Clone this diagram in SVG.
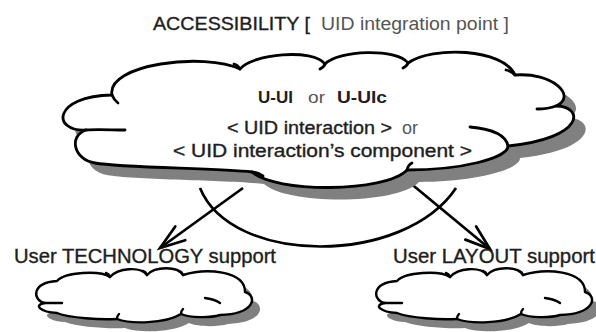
<svg xmlns="http://www.w3.org/2000/svg" width="596" height="332" viewBox="0 0 596 332">
<style>
.t{font-family:"Liberation Sans",Arial,sans-serif;fill:#1e1e1e;stroke:#1e1e1e;stroke-width:0.35}
.g{fill:#555;stroke:none}
.b{font-weight:bold;stroke:none}
.shadow{fill:#808080;stroke:none}
.cloud{fill:#fff;stroke:#000;stroke-width:2.8;stroke-linejoin:round}
.hook{fill:none;stroke:#000;stroke-width:2.8;stroke-linecap:round}
.scloud{fill:#fff;stroke:#000;stroke-width:2.4;stroke-linejoin:round}
.shook{fill:none;stroke:#000;stroke-width:2.4;stroke-linecap:round}
.conn{fill:none;stroke:#000;stroke-width:2.7}
</style>
<defs>
<marker id="arr" markerUnits="userSpaceOnUse" markerWidth="40" markerHeight="40" viewBox="-30 -15 40 30" refX="0" refY="0" orient="auto">
<path d="M-25,-8.5 L0,0 L-25,8.5" fill="none" stroke="#000" stroke-width="2.7" stroke-linecap="round" stroke-linejoin="miter"/>
</marker>
<path id="big" d="M86,130 C52,132 52,96 112,95 C106,64 205,52 240,69 C252,54 313,48 325,64 C338,50 397,48 408,63 C432,46 503,48 515,75 C552,72 578,96 556,106 C584,106 586,138 508,146 C508,158 462,170 407,170 C385,193 275,193 252,172 C218,168 122,168 95,163 C74,160 68,136 86,130 Z"/>
<path id="small" d="M45,303 C33,301 30,283 57,281 C65,272 100,270 110,277 C118,268 140,266 147,275 C155,266 178,266 183,275 C205,268 245,270 245,292 C258,296 255,314 220,315 C210,318 190,318 181,314 C165,324 130,324 117,319 C100,320 70,318 57,313 C40,312 33,305 45,303 Z"/>
</defs>

<text class="t" x="153" y="30" font-size="18" textLength="157" lengthAdjust="spacingAndGlyphs">ACCESSIBILITY [</text>
<text class="t g" x="321" y="30" font-size="18" textLength="188" lengthAdjust="spacingAndGlyphs">UID integration point ]</text>

<g id="connectors">
<path class="conn" d="M200,188 C232,266 404,266 456,188"/>
<path class="conn" d="M243,188 L160,248" marker-end="url(#arr)"/>
<path class="conn" d="M409,182 L490,249" marker-end="url(#arr)"/>
</g>

<g id="uid-interaction">
<use href="#big" class="shadow" transform="translate(12,12)"/>
<use href="#big" class="cloud"/>
<path class="hook" d="M86,130 C97,129 112,130 125,130"/>
<path class="hook" d="M112,95 Q114,100 118,103"/>
<path class="hook" d="M240,69 Q238,65 234,64"/>
<path class="hook" d="M325,64 Q324,67 320,69"/>
<path class="hook" d="M408,63 Q407,66 403,68"/>
<path class="hook" d="M515,75 Q511,71 506,70"/>
<path class="hook" d="M556,106 C551,108 545,109 537,109"/>
<path class="hook" d="M508,146 C506,135 492,129 470,127"/>
<path class="hook" d="M407,170 Q408,165 412,163"/>
<path class="hook" d="M252,172 Q257,172 263,176"/>
<text class="t b" x="258" y="103" font-size="17" textLength="35" lengthAdjust="spacingAndGlyphs">U-UI</text>
<text class="t g" x="308" y="103" font-size="17" textLength="17" lengthAdjust="spacingAndGlyphs">or</text>
<text class="t b" x="337" y="103" font-size="17" textLength="50" lengthAdjust="spacingAndGlyphs">U-UIc</text>
<text class="t" x="227" y="134" font-size="17.5" textLength="165" lengthAdjust="spacingAndGlyphs">&lt; UID interaction &gt;</text>
<text class="t g" x="402" y="134" font-size="17.5" textLength="16" lengthAdjust="spacingAndGlyphs">or</text>
<text class="t" x="173" y="157" font-size="17.5" textLength="299" lengthAdjust="spacingAndGlyphs">&lt; UID interaction’s component &gt;</text>
</g>

<g id="user-technology-support">
<text class="t" x="14" y="263" font-size="19.5" textLength="262" lengthAdjust="spacingAndGlyphs">User TECHNOLOGY support</text>
<use href="#small" class="shadow" transform="translate(8,9)"/>
<use href="#small" class="scloud"/>
<path class="shook" d="M45,303 L62,303"/>
<path class="shook" d="M205,298 Q214,299 220,303"/>
<path class="shook" d="M110,277 Q109,274 106,273"/>
<path class="shook" d="M147,275 Q146,272 143,271"/>
<path class="shook" d="M183,275 Q182,272 179,271"/>
<path class="shook" d="M181,314 Q181,311 183,309"/>
<path class="shook" d="M117,319 Q117,316 119,314"/>
</g>

<g id="user-layout-support">
<text class="t" x="393" y="263" font-size="19.5" textLength="202" lengthAdjust="spacingAndGlyphs">User LAYOUT support</text>
<g transform="translate(340,0)">
<use href="#small" class="shadow" transform="translate(8,9)"/>
<use href="#small" class="scloud"/>
<path class="shook" d="M45,303 L62,303"/>
<path class="shook" d="M205,298 Q214,299 220,303"/>
<path class="shook" d="M110,277 Q109,274 106,273"/>
<path class="shook" d="M147,275 Q146,272 143,271"/>
<path class="shook" d="M183,275 Q182,272 179,271"/>
<path class="shook" d="M181,314 Q181,311 183,309"/>
<path class="shook" d="M117,319 Q117,316 119,314"/>
</g>
</g>
</svg>
